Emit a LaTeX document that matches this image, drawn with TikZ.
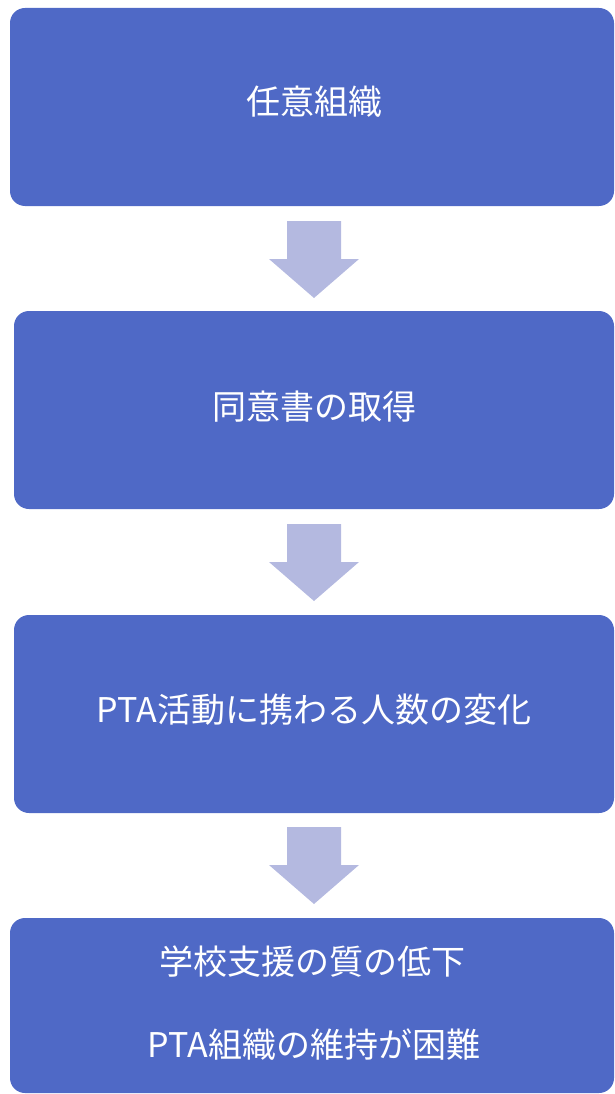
\documentclass[tikz,border=0pt]{standalone}
\usepackage{fontspec}
\setmainfont{Noto Sans CJK JP}
\definecolor{boxblue}{HTML}{4F69C6}
\definecolor{arrowblue}{HTML}{B4B9E0}
\begin{document}
\begin{tikzpicture}[x=1pt,y=-1pt,
  flowbox/.style={fill=boxblue, draw=none, rounded corners=15pt},
  boxtext/.style={text=white, font=\fontsize{34}{40}\selectfont, inner sep=0pt},
  downarrow/.style={fill=arrowblue, draw=none}]
\useasboundingbox (0,0) rectangle (615,1094);
% boxes
\path[flowbox] (10,8) rectangle (614,206);
\path[flowbox] (14,311) rectangle (614,509);
\path[flowbox] (14,615) rectangle (614,813);
\path[flowbox] (10,918) rectangle (614,1093);
% texts
\node[boxtext] (t1) at (314,102) {任意組織};
\node[boxtext] (t2) at (314,407) {同意書の取得};
\node[boxtext] (t3) at (314,710) {PTA活動に携わる人数の変化};
\node[boxtext] (t4a) at (312,962) {学校支援の質の低下};
\node[boxtext] (t4b) at (314,1045) {PTA組織の維持が困難};
% arrows
\foreach \y in {0,303,606}{
  \path[downarrow] (287,221+\y) -- (341,221+\y) -- (341,259+\y) -- (359,259+\y)
    -- (314,298+\y) -- (269,259+\y) -- (287,259+\y) -- cycle;
}
\end{tikzpicture}
\end{document}
